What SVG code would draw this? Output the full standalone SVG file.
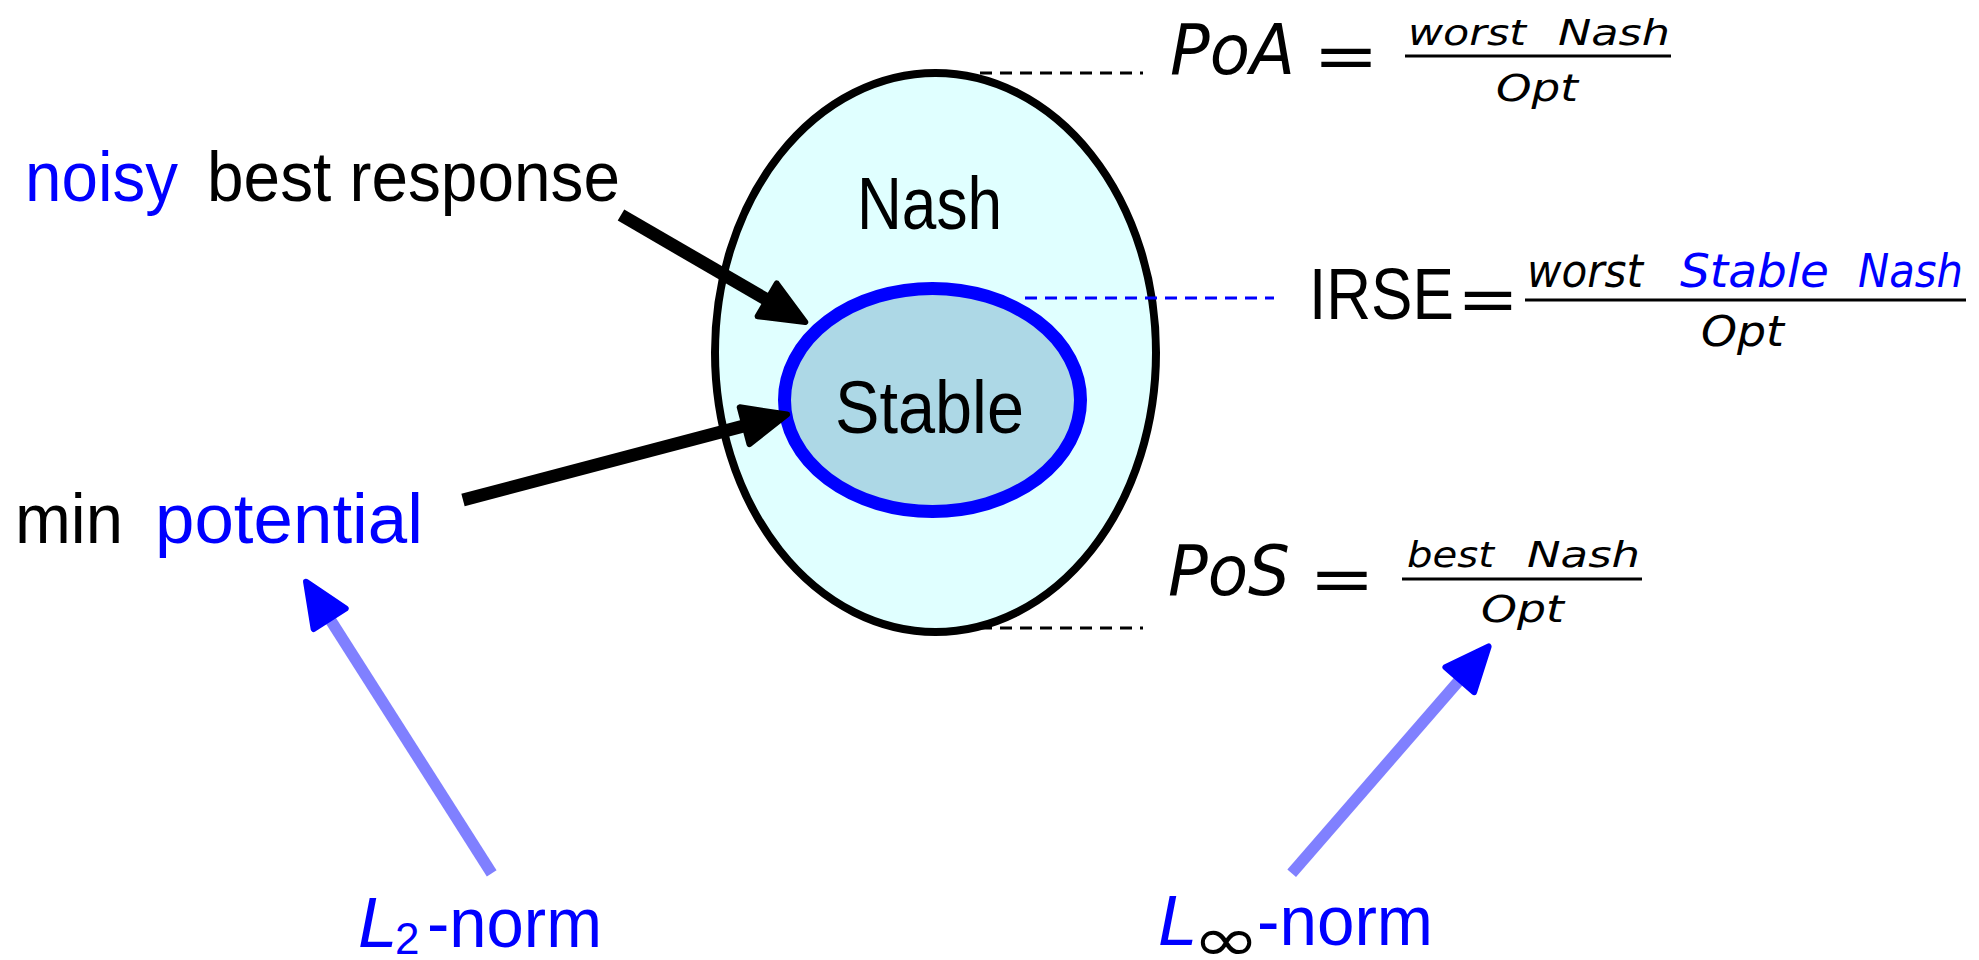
<svg xmlns="http://www.w3.org/2000/svg" width="1979" height="960" viewBox="0 0 1979 960">
<style>
.t{font-family:"Liberation Sans",Arial,sans-serif;fill:#000}
.m{font-family:"DejaVu Sans","Liberation Sans",sans-serif;font-style:italic;fill:#000}
.li{font-family:"Liberation Sans",Arial,sans-serif;font-style:italic}
.b{fill:#0000FF}
.eq{font-family:"DejaVu Sans","Liberation Sans",sans-serif;fill:#000}
.frac{stroke:#000;stroke-width:3}
.dash{fill:none;stroke-width:3;stroke-dasharray:12 8}
.ak{fill:none;stroke:#000;stroke-width:13}
.ab{fill:none;stroke:#8080FF;stroke-width:11.5}
</style>
<defs>
<marker id="headK" markerUnits="userSpaceOnUse" orient="auto" refX="4" refY="0" viewBox="-5 -25 60 50" markerWidth="60" markerHeight="50" overflow="visible">
<path d="M2,-19 L46,0 L2,19 Z" fill="#000" stroke="#000" stroke-width="6" stroke-linejoin="round"/>
</marker>
<marker id="headB" markerUnits="userSpaceOnUse" orient="auto" refX="4" refY="0" viewBox="-5 -25 60 50" markerWidth="60" markerHeight="50" overflow="visible">
<path d="M2,-19 L46,0 L2,19 Z" fill="#0000FF" stroke="#0000FF" stroke-width="6" stroke-linejoin="round"/>
</marker>
</defs>
<rect width="1979" height="960" fill="#fff"/>

<g id="node-nash">
<ellipse cx="935.5" cy="352.5" rx="220.5" ry="279.5" fill="#E0FFFF" stroke="#000" stroke-width="8"/>
<text class="t" x="857" y="229" font-size="75" textLength="145" lengthAdjust="spacingAndGlyphs">Nash</text>
</g>

<g id="node-stable">
<ellipse cx="932.5" cy="400" rx="148" ry="111.5" fill="#ADD8E6" stroke="#0000FF" stroke-width="13"/>
<text class="t" x="835" y="433" font-size="75" textLength="189" lengthAdjust="spacingAndGlyphs">Stable</text>
</g>

<g id="label-noisy">
<text class="t b" x="25" y="201" font-size="71" textLength="153" lengthAdjust="spacingAndGlyphs">noisy</text>
<text class="t" x="207" y="201" font-size="71" textLength="413" lengthAdjust="spacingAndGlyphs">best response</text>
</g>

<g id="label-minpot">
<text class="t" x="15" y="543" font-size="71" textLength="108" lengthAdjust="spacingAndGlyphs">min</text>
<text class="t b" x="155" y="543" font-size="71" textLength="268" lengthAdjust="spacingAndGlyphs">potential</text>
</g>

<g id="formula-poa">
<text class="m" x="1170" y="74" font-size="70" textLength="125" lengthAdjust="spacingAndGlyphs">PoA</text>
<text class="eq" x="1313" y="78" font-size="64" textLength="66" lengthAdjust="spacingAndGlyphs">=</text>
<line class="frac" x1="1405" y1="56" x2="1671" y2="56"/>
<text class="m" x="1408" y="45" font-size="36" textLength="118" lengthAdjust="spacingAndGlyphs">worst</text>
<text class="m" x="1558" y="45" font-size="36" textLength="112" lengthAdjust="spacingAndGlyphs">Nash</text>
<text class="m" x="1496" y="101" font-size="37" textLength="82" lengthAdjust="spacingAndGlyphs">Opt</text>
</g>

<g id="formula-irse">
<text class="t" x="1309" y="319" font-size="73" textLength="145" lengthAdjust="spacingAndGlyphs">IRSE</text>
<text class="eq" x="1457" y="321" font-size="64" textLength="62" lengthAdjust="spacingAndGlyphs">=</text>
<line class="frac" x1="1525" y1="300" x2="1966" y2="300"/>
<text class="m" x="1527" y="287" font-size="46" textLength="116" lengthAdjust="spacingAndGlyphs">worst</text>
<text class="m b" x="1680" y="287" font-size="46" textLength="149" lengthAdjust="spacingAndGlyphs">Stable</text>
<text class="m b" x="1858" y="287" font-size="46" textLength="105" lengthAdjust="spacingAndGlyphs">Nash</text>
<text class="m" x="1701" y="346" font-size="42" textLength="83" lengthAdjust="spacingAndGlyphs">Opt</text>
</g>

<g id="formula-pos">
<text class="m" x="1168" y="595" font-size="70" textLength="122" lengthAdjust="spacingAndGlyphs">PoS</text>
<text class="eq" x="1309" y="601" font-size="64" textLength="66" lengthAdjust="spacingAndGlyphs">=</text>
<line class="frac" x1="1402" y1="579" x2="1642" y2="579"/>
<text class="m" x="1407" y="567" font-size="36" textLength="87" lengthAdjust="spacingAndGlyphs">best</text>
<text class="m" x="1527" y="567" font-size="36" textLength="113" lengthAdjust="spacingAndGlyphs">Nash</text>
<text class="m" x="1481" y="622" font-size="37" textLength="83" lengthAdjust="spacingAndGlyphs">Opt</text>
</g>

<g id="label-l2">
<text class="li b" x="358" y="947" font-size="71">L</text>
<text class="t b" x="395" y="954" font-size="44">2</text>
<text class="t b" x="427" y="947" font-size="70" textLength="175" lengthAdjust="spacingAndGlyphs">-norm</text>
</g>

<g id="label-linf">
<text class="li b" x="1158" y="945" font-size="71">L</text>
<text class="eq b" x="1192" y="961" font-size="62" textLength="68" lengthAdjust="spacingAndGlyphs">∞</text>
<text class="t b" x="1257" y="945" font-size="70" textLength="176" lengthAdjust="spacingAndGlyphs">-norm</text>
</g>

<g id="connectors">
<line class="dash" stroke="#000" x1="980" y1="73" x2="1143" y2="73"/>
<line class="dash" stroke="#000" x1="980" y1="628" x2="1143" y2="628"/>
<line class="dash" stroke="#0000FF" x1="1025" y1="298" x2="1274" y2="298"/>
<line class="ak" x1="621" y1="215" x2="768.9" y2="300.9" marker-end="url(#headK)"/>
<line class="ak" x1="463" y1="500" x2="746.5" y2="425.2" marker-end="url(#headK)"/>
<line class="ab" x1="491.7" y1="873.3" x2="328.6" y2="617.1" marker-end="url(#headB)"/>
<line class="ab" x1="1291.7" y1="873.3" x2="1461.1" y2="678.2" marker-end="url(#headB)"/>
</g>
</svg>
